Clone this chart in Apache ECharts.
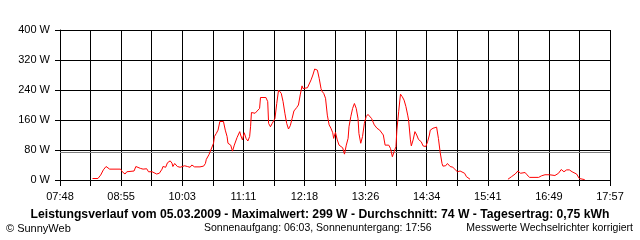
<!DOCTYPE html>
<html>
<head>
<meta charset="utf-8">
<script src="https://cdn.jsdelivr.net/npm/echarts@6/dist/echarts.min.js"></script>
<style>html,body{margin:0;padding:0;background:#fff}#c{width:640px;height:240px}</style>
</head>
<body>
<div id="c"></div>
<script>
// x-axis range (clock times)
var axisStart = "07:48";
var axisEnd = "17:57";
var xDivisions = 18;
// y-axis
var yMax = 400;
var yStep = 80;
var average = 74;
// measurement times and power values (W); null = no data
var times = ["08:24","08:30","08:33","08:36","08:39","08:40","08:43","08:55","08:57","09:00","09:02","09:04","09:10","09:12","09:14","09:17","09:20","09:24","09:26","09:30","09:32","09:35","09:38","09:41","09:42","09:45","09:47","09:50","09:52","09:53","09:55","09:58","10:01","10:03","10:06","10:09","10:12","10:14","10:16","10:17","10:23","10:27","10:29","10:30","10:33","10:35","10:38","10:39","10:41","10:43","10:45","10:47","10:49","10:51","10:53","10:54","10:57","10:59","11:01","11:04","11:07","11:08","11:10","11:12","11:14","11:16","11:18","11:19","11:20","11:22","11:24","11:26","11:29","11:30","11:36","11:38","11:39","11:41","11:43","11:46","11:48","11:50","11:52","11:53","11:55","11:57","11:59","12:01","12:03","12:05","12:07","12:10","12:12","12:14","12:16","12:17","12:19","12:22","12:24","12:26","12:28","12:30","12:31","12:33","12:35","12:37","12:38","12:40","12:42","12:44","12:46","12:48","12:50","12:51","12:53","12:55","12:57","12:59","13:01","13:03","13:05","13:07","13:08","13:10","13:12","13:14","13:16","13:18","13:19","13:21","13:23","13:25","13:27","13:29","13:31","13:33","13:36","13:39","13:42","13:44","13:46","13:48","13:50","13:52","13:54","13:56","13:58","14:00","14:01","14:03","14:05","14:07","14:09","14:11","14:13","14:14","14:16","14:17","14:19","14:21","14:23","14:25","14:27","14:28","14:30","14:33","14:35","14:37","14:38","14:41","14:43","14:45","14:47","14:49","14:51","14:52","14:55","14:57","15:00","15:03","15:05","15:08","15:11","15:13","15:16","15:18","15:22","15:23","16:04","16:08","16:12","16:15","16:18","16:20","16:23","16:25","16:28","16:38","16:41","16:45","16:50","16:52","16:56","17:00","17:03","17:06","17:09","17:12","17:15","17:17","17:20","17:23","17:24","17:29"];
var power = [4,4,13,27,36,34,29,29,22,16,22,24,24,36,33,31,29,30,22,22,20,16,18,29,36,34,46,51,45,36,44,36,34,38,38,36,34,40,44,35,35,37,44,55,68,80,98,116,124,133,156,158,156,133,116,98,93,77,93,113,129,120,107,126,111,104,116,142,180,182,178,182,191,220,220,209,151,142,151,164,204,240,243,231,209,178,151,136,145,164,184,193,200,227,251,244,243,246,251,267,280,296,299,293,271,244,237,231,218,173,147,138,126,111,127,107,93,91,86,69,93,111,142,169,191,204,191,164,124,98,116,151,169,175,173,164,147,138,133,135,120,93,89,93,84,62,76,89,133,182,229,222,213,196,173,160,107,91,107,129,120,108,113,102,91,89,102,120,133,138,139,141,111,73,44,37,38,44,36,34,30,22,24,27,18,9,2,null,2,9,16,24,18,17,20,14,7,7,11,14,14,12,12,18,28,22,27,27,22,23,16,4,2,1];
// footer texts
var titleText = "Leistungsverlauf vom 05.03.2009 - Maximalwert: 299 W - Durchschnitt: 74 W - Tagesertrag: 0,75 kWh";
var copyrightText = "\u00A9 SunnyWeb";
var sunText = "Sonnenaufgang: 06:03, Sonnenuntergang: 17:56";
var noteText = "Messwerte Wechselrichter korrigiert";

function toMin(s){var p=s.split(":");return (+p[0])*60+(+p[1]);}
var t0 = toMin(axisStart), span = toMin(axisEnd) - t0;
var step = span / xDivisions;
var data = times.map(function(t,i){return [toMin(t)-t0, power[i]===null?'-':power[i]];});
function fmtTime(v){
  var idx = Math.round(v/step);
  if (idx % 2) return '';
  var m = Math.floor(t0 + v + 1e-6);
  var h = Math.floor(m/60), mm = m%60;
  return (h<10?'0':'')+h+':'+(mm<10?'0':'')+mm;
}
var FONT = 'Liberation Sans';
var chart = echarts.init(document.getElementById('c'), null, {renderer:'canvas'});
chart.setOption({
  animation:false,
  backgroundColor:'#fff',
  grid:{left:60, top:30, width:550, height:150, containLabel:false},
  xAxis:{type:'value', min:0, max:span, interval:step,
    axisLine:{show:true, lineStyle:{color:'#000', width:1}},
    axisTick:{show:true, length:6, lineStyle:{color:'#000'}},
    splitLine:{show:true, lineStyle:{color:'#000', width:1}},
    axisLabel:{formatter:fmtTime, color:'#000', fontFamily:FONT, fontSize:11, margin:11, showMinLabel:true, showMaxLabel:true, hideOverlap:false}
  },
  yAxis:{type:'value', min:0, max:yMax, interval:yStep,
    axisLine:{show:true, lineStyle:{color:'#000', width:1}},
    axisTick:{show:true, length:5, lineStyle:{color:'#000'}},
    splitLine:{show:true, lineStyle:{color:'#000', width:1}},
    axisLabel:{formatter:'{value} W', color:'#000', fontFamily:FONT, fontSize:11, margin:10}
  },
  series:[{type:'line', data:data, showSymbol:false, symbol:'none', connectNulls:false,
    lineStyle:{color:'#ff0000', width:1}, itemStyle:{color:'#ff0000'}, z:5,
    markLine:{silent:true, symbol:'none', label:{show:false},
      lineStyle:{color:'#808080', type:'solid', width:1}, data:[{yAxis:average}]}
  }],
  graphic:[
    {type:'text', left:'center', top:209, style:{text:titleText, font:'bold 12.2px '+FONT, fill:'#000'}},
    {type:'text', left:6, top:223, style:{text:copyrightText, font:'11px '+FONT, fill:'#000'}},
    {type:'text', left:204, top:223, style:{text:sunText, font:'10.5px '+FONT, fill:'#000'}},
    {type:'text', right:7, top:223, style:{text:noteText, font:'10.5px '+FONT, fill:'#000'}}
  ]
});
</script>
</body>
</html>
